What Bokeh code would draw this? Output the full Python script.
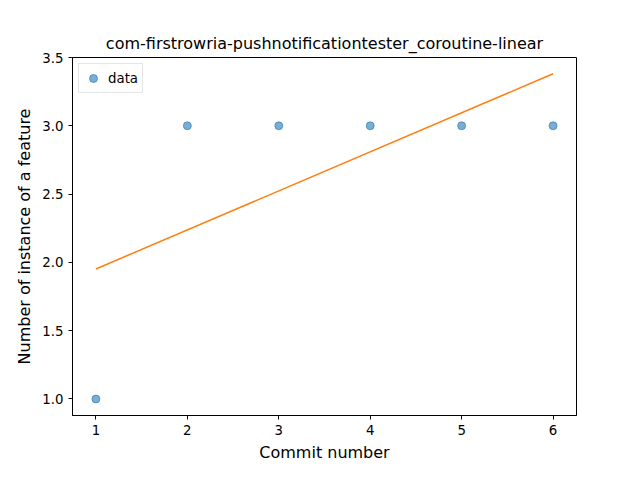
from bokeh.plotting import figure
from bokeh.models import Range1d, FixedTicker, Legend, LegendItem, CustomJSTickFormatter
from bokeh.embed import file_html
from bokeh.resources import INLINE

# data
commits = [1, 2, 3, 4, 5, 6]
instances = [1, 3, 3, 3, 3, 3]
fit_x = [1, 6]
fit_y = [1.952, 3.381]

FONT = "DejaVu Sans"

p = figure(width=624, height=464, output_backend="svg", toolbar_location=None,
           x_range=Range1d(0.744, 6.256), y_range=Range1d(0.879, 3.5),
           min_border_left=72, min_border_right=48, min_border_top=57, min_border_bottom=38,
           title="com-firstrowria-pushnotificationtester_coroutine-linear")
p.title.text_font = FONT
p.title.text_font_size = "12pt"
p.title.text_font_style = "normal"
p.title.text_color = "black"
p.title.align = "center"

pts = p.scatter(commits, instances, size=8, fill_color="#1f77b4", line_color="#1f77b4",
                fill_alpha=0.6, line_alpha=0.6)
p.line(fit_x, fit_y, line_color="#ff7f0e", line_width=1.5)

p.grid.visible = False
p.outline_line_color = "black"
p.xaxis.ticker = FixedTicker(ticks=[1, 2, 3, 4, 5, 6])
p.yaxis.ticker = FixedTicker(ticks=[1.0, 1.5, 2.0, 2.5, 3.0, 3.5])
p.yaxis.formatter = CustomJSTickFormatter(code="return tick.toFixed(1);")
p.xaxis.axis_label = "Commit number"
p.yaxis.axis_label = "Number of instance of a feature"
for ax in (p.xaxis, p.yaxis):
    ax.axis_label_text_font = FONT
    ax.axis_label_text_font_size = "12pt"
    ax.axis_label_text_font_style = "normal"
    ax.axis_label_text_color = "black"
    ax.major_label_text_font = FONT
    ax.major_label_text_font_size = "10pt"
    ax.major_label_text_color = "black"
    ax.minor_tick_line_color = None
    ax.major_tick_in = 0
    ax.major_tick_out = 4
    ax.axis_line_color = "black"

legend = Legend(items=[LegendItem(label="data", renderers=[pts])], location="top_left",
                label_text_font=FONT, label_text_font_size="10pt", label_text_color="black",
                border_line_color="#cccccc", padding=4, spacing=2, margin=6)
p.add_layout(legend)

open("out.html", "w").write(file_html(p, INLINE))
